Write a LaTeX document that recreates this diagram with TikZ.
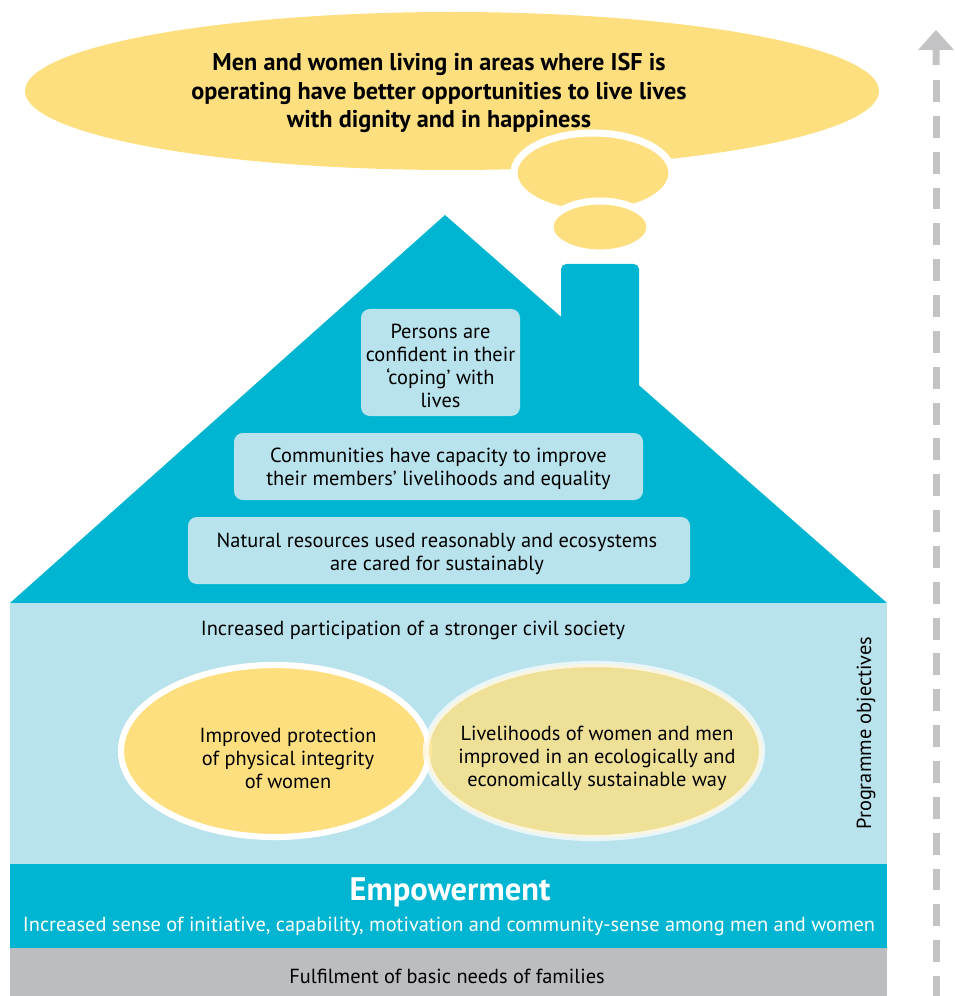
\documentclass[tikz,border=0pt]{standalone}
\usepackage{fontspec}
\setmainfont{PT Sans}
\usetikzlibrary{shapes.geometric}
\definecolor{roofblue}{HTML}{00B5D1}
\definecolor{paleblue}{HTML}{B8E2EC}
\definecolor{sunyellow}{HTML}{FEDF80}
\definecolor{khaki}{HTML}{FDE082}
\definecolor{basegray}{HTML}{BCBDC0}
\definecolor{arrowgray}{HTML}{C3C3C5}
\tikzset{
  boxtext/.style={font=\fontsize{11.6}{13.1}\selectfont, align=center, text=black},
  palebox/.style={fill=paleblue, rounded corners=5pt, draw=none},
}
\begin{document}
\begin{tikzpicture}[x=0.02cm,y=-0.02cm]
\useasboundingbox (0,0) rectangle (955,996);
% thought bubble
\fill[sunyellow] (452,91) ellipse [x radius=427, y radius=79];
\node[boxtext, font=\fontsize{13.8}{16.4}\selectfont\bfseries] (goal) at (439,93)
  {Men and women living in areas where ISF is\\operating have better opportunities to live lives\\with dignity and in happiness};
\draw[fill=sunyellow, draw=white, line width=4pt] (593,173) ellipse [x radius=79, y radius=40];
\draw[fill=sunyellow, draw=white, line width=4pt] (600,227) ellipse [x radius=50, y radius=26];
% house roof and chimney
\fill[roofblue, rounded corners=3pt] (561,400) -- (561,264) -- (639,264) -- (639,400) -- cycle;
\fill[roofblue] (10,603) -- (445,215) -- (887,603) -- cycle;
% roof boxes
\fill[palebox] (361,309) rectangle (520,416);
\node[boxtext] (b1) at (440.5,366) {Persons are\\confident in their\\‘coping’ with\\lives};
\fill[palebox] (234,433) rectangle (643,500);
\node[boxtext] (b2) at (438.5,469) {Communities have capacity to improve\\their members’ livelihoods and equality};
\fill[palebox] (188,517) rectangle (690,584);
\node[boxtext] (b3) at (437,554) {Natural resources used reasonably and ecosystems\\are cared for sustainably};
% objectives area
\fill[paleblue] (10,603) rectangle (887,864);
\node[boxtext] (civil) at (413,630) {Increased participation of a stronger civil society};
\draw[fill=sunyellow, draw=white, line width=3.5pt] (275,751) ellipse [x radius=154, y radius=86];
\draw[fill=khaki, fill opacity=0.8, draw=white, draw opacity=0.7, line width=3.5pt] (594,751) ellipse [x radius=168, y radius=87];
\node[boxtext] (prot) at (288,758) {Improved protection\\of physical integrity\\of women};
\node[boxtext] (liv) at (597,758) {Livelihoods of women and men\\improved in an ecologically and\\economically sustainable way};
\node[boxtext, rotate=90] (prog) at (866,733) {Programme objectives};
% empowerment band
\fill[roofblue] (10,864) rectangle (887,948);
\node[font=\fontsize{18.5}{22}\selectfont\bfseries, text=white] (emp) at (450,892) {Empowerment};
\node[font=\fontsize{11.6}{14}\selectfont, text=white] (empsub) at (449,926) {Increased sense of initiative, capability, motivation and community-sense among men and women};
% basic needs band
\fill[basegray] (10,948) rectangle (887,996);
\node[boxtext] (basic) at (447,976) {Fulfilment of basic needs of families};
% dashed arrow
\coordinate (arrtop) at (936,80);
\coordinate (arrbot) at (936,1000);
\draw[arrowgray, line width=4pt, dash pattern=on 12.5pt off 7.9pt] (arrtop) -- (arrbot);
\fill[arrowgray] (918,50) -- (936,30) -- (954,50) -- (939.5,50) -- (939.5,65) -- (932.5,65) -- (932.5,50) -- cycle;
\end{tikzpicture}
\end{document}
